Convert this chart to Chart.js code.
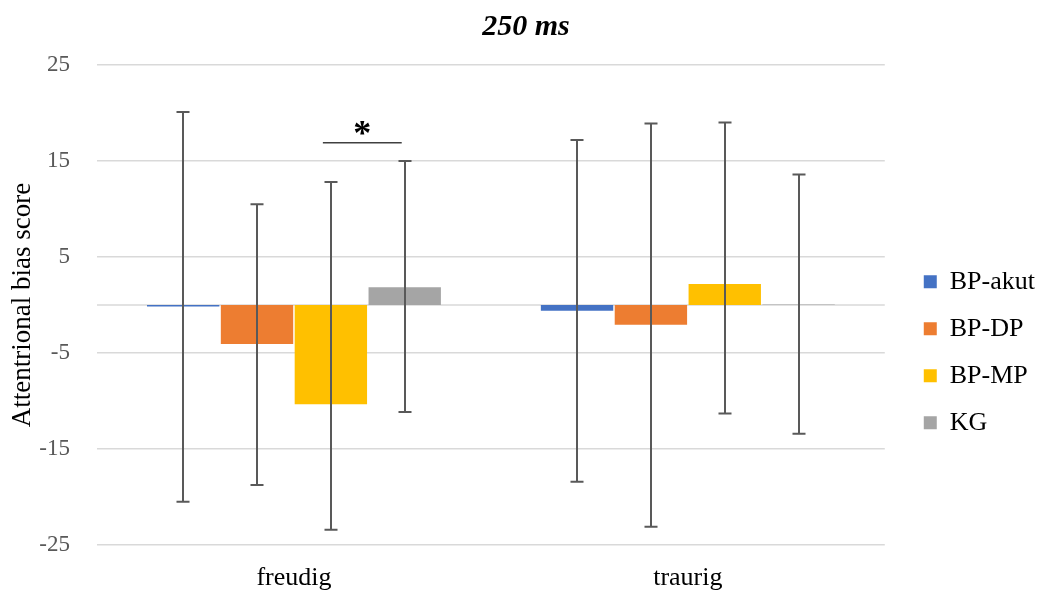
<!DOCTYPE html>
<html>
<head>
<meta charset="utf-8">
<script src="https://cdn.jsdelivr.net/npm/chart.js@4.4.0/dist/chart.umd.min.js"></script>
<style>
    html, body { margin: 0; padding: 0; background: #fff; }
</style>
</head>
<body>
<canvas id="myChart" width="1045" height="590"></canvas>
<script>
// data
const categories = ['freudig', 'traurig'];
const groups = ['BP-akut', 'BP-DP', 'BP-MP', 'KG'];

const akutMeans = [-0.15, -0.6];
const dpMeans = [-4.05, -2.05];
const mpMeans = [-10.35, 2.2];
const kgMeans = [1.85, 0.05];

// error bar lengths above / below the mean
const akutErrUp = [20.25, 17.8];
const akutErrDown = [20.35, 17.8];
const dpErrUp = [14.55, 20.95];
const dpErrDown = [14.7, 21.05];
const mpErrUp = [23.15, 16.8];
const mpErrDown = [13.05, 13.5];
const kgErrUp = [13.15, 13.55];
const kgErrDown = [13.0, 13.45];

// significance mark between BP-MP and KG at freudig
const sigLevel = 16.9;

const serif = "'Liberation Serif', 'Times New Roman', serif";

let chartElem = document.getElementById('myChart').getContext('2d');

let data = {
    labels: categories,
    datasets: [
        { label: groups[0], data: akutMeans, errUp: akutErrUp, errDown: akutErrDown, backgroundColor: '#4472C4' },
        { label: groups[1], data: dpMeans, errUp: dpErrUp, errDown: dpErrDown, backgroundColor: '#ED7D31' },
        { label: groups[2], data: mpMeans, errUp: mpErrUp, errDown: mpErrDown, backgroundColor: '#FFC000' },
        { label: groups[3], data: kgMeans, errUp: kgErrUp, errDown: kgErrDown, backgroundColor: '#A5A5A5' }
    ]
};

// zero line under the bars
const zeroLine = {
    id: 'zeroLine',
    beforeDatasetsDraw(chart) {
        const { ctx, chartArea, scales: { y } } = chart;
        const py = y.getPixelForValue(0);
        ctx.save();
        ctx.strokeStyle = '#D9D9D9';
        ctx.lineWidth = 1.5;
        ctx.beginPath();
        ctx.moveTo(chartArea.left, py);
        ctx.lineTo(chartArea.right, py);
        ctx.stroke();
        ctx.restore();
    }
};

// error bars + significance bracket
const errorBars = {
    id: 'errorBars',
    afterDatasetsDraw(chart) {
        const { ctx, scales: { y } } = chart;
        ctx.save();
        ctx.strokeStyle = '#595959';
        ctx.lineWidth = 2;
        chart.data.datasets.forEach((ds, i) => {
            chart.getDatasetMeta(i).data.forEach((bar, j) => {
                const v = ds.data[j];
                const top = y.getPixelForValue(v + ds.errUp[j]);
                const bot = y.getPixelForValue(v - ds.errDown[j]);
                const x = Math.round(bar.x);
                ctx.beginPath();
                ctx.moveTo(x, top);
                ctx.lineTo(x, bot);
                ctx.moveTo(x - 6.5, top);
                ctx.lineTo(x + 6.5, top);
                ctx.moveTo(x - 6.5, bot);
                ctx.lineTo(x + 6.5, bot);
                ctx.stroke();
            });
        });

        const mp = chart.getDatasetMeta(2).data[0];
        const kg = chart.getDatasetMeta(3).data[0];
        const sy = y.getPixelForValue(sigLevel);
        const x1 = mp.x - 8, x2 = kg.x - 3;
        ctx.strokeStyle = '#404040';
        ctx.lineWidth = 1.5;
        ctx.beginPath();
        ctx.moveTo(x1, sy);
        ctx.lineTo(x2, sy);
        ctx.stroke();
        ctx.fillStyle = '#000';
        ctx.font = 'bold 36px ' + serif;
        ctx.textAlign = 'center';
        ctx.textBaseline = 'alphabetic';
        ctx.fillText('*', (x1 + x2) / 2, sy + 2);
        ctx.restore();
    }
};

let chart = new Chart(chartElem, {
    type: 'bar',
    data: data,
    plugins: [zeroLine, errorBars],
    options: {
        responsive: false,
        animation: false,
        devicePixelRatio: 1,
        layout: { padding: { left: 7, right: 0, top: 0, bottom: 0 } },
        datasets: {
            bar: { categoryPercentage: 0.75, barPercentage: 0.98, borderWidth: 0 }
        },
        scales: {
            x: {
                grid: { display: false, drawTicks: false },
                border: { display: false },
                ticks: { color: '#000', padding: 20, font: { family: serif, size: 26, lineHeight: 1 } },
                afterFit: (s) => { s.height = 45; }
            },
            y: {
                min: -25,
                max: 25,
                grid: { color: '#D9D9D9', lineWidth: 1.5, drawTicks: false },
                border: { display: false },
                ticks: { stepSize: 10, color: '#595959', padding: 27, font: { family: serif, size: 23 } },
                title: {
                    display: true,
                    text: 'Attentrional bias score',
                    color: '#000',
                    padding: 0,
                    font: { family: serif, size: 27 }
                },
                afterFit: (s) => { s.width = 90; }
            },
            gap: {
                position: 'right',
                display: true,
                grid: { display: false },
                border: { display: false },
                ticks: { display: false },
                afterFit: (s) => { s.width = 18; }
            }
        },
        plugins: {
            title: {
                display: true,
                text: '250 ms',
                color: '#000',
                padding: { top: 9, bottom: 20 },
                font: { family: serif, size: 30, style: 'italic', weight: 'bold' }
            },
            legend: {
                position: 'right',
                title: { display: true, text: ' ', font: { size: 12 }, padding: { top: 0, bottom: 100 } },
                labels: {
                    boxWidth: 13,
                    boxHeight: 13,
                    padding: 21,
                    color: '#000',
                    font: { family: serif, size: 26 }
                }
            },
            tooltip: { enabled: false }
        }
    }
});
</script>
</body>
</html>
